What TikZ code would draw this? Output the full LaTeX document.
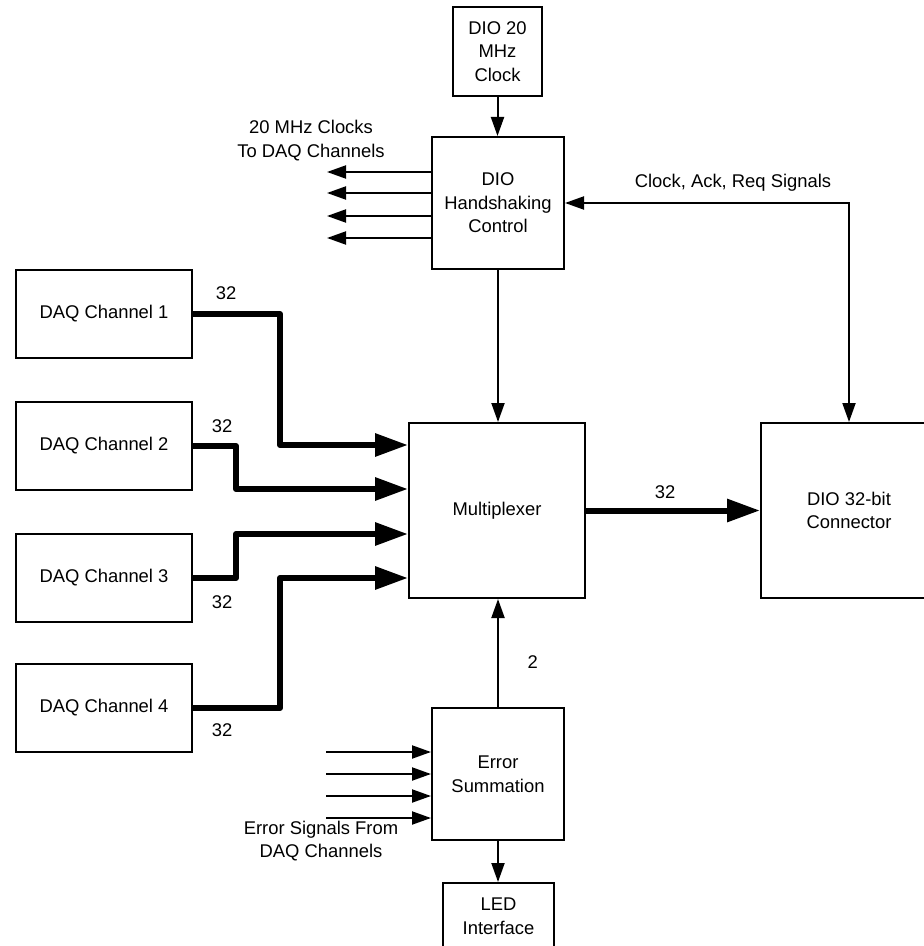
\documentclass[tikz,border=0pt]{standalone}
\usepackage{fontspec}
\setmainfont{Liberation Sans}
\usetikzlibrary{positioning, arrows.meta}

\begin{document}
\begin{tikzpicture}[x=0.5pt,y=-0.5pt,node distance=66pt,on grid,
	font=\fontsize{9.2}{11.8}\selectfont,
	block/.style={draw,line width=1pt,align=center,inner sep=0pt},
	daq/.style={block,minimum width=88pt,minimum height=44pt},
	lbl/.style={align=center,inner sep=0pt},
	sig/.style={line width=1pt,-{Triangle[length=9.5pt,width=6.5pt]}},
	bus/.style={line width=3pt,line join=round,-{Triangle[length=16.5pt,width=11pt]}}]
	
	\clip (0,0) rectangle (924,946);
	
	\node[block,minimum size=44.5pt] (clk) at (497.5,51.5) {DIO 20\\MHz\\Clock};
	\node[block,minimum size=66pt]   (hs)  at (498,203)    {DIO\\Handshaking\\Control};
	\node[block,minimum width=88pt,minimum height=87.5pt] (mux) at (497,510.5) {Multiplexer};
	\node[block,minimum width=88pt,minimum height=87.5pt] (con) at (849,510.5) {DIO 32-bit\\Connector};
	\node[block,minimum size=66pt]   (err) at (498,774)    {Error\\Summation};
	\node[block,minimum width=55.5pt,minimum height=33pt] (led) at (498.5,916) {LED\\Interface};
	
	\node[daq] (ch1) at (104,314)        {DAQ Channel 1};
	\node[daq] (ch2) [below=66pt of ch1] {DAQ Channel 2};
	\node[daq] (ch3) [below=66pt of ch2] {DAQ Channel 3};
	\node[daq] (ch4) [below=65pt of ch3] {DAQ Channel 4};
	
	% clocks out to the channels
	\foreach \y [count=\i] in {172,193,216,238} {
		\coordinate (ck\i) at (327,\y);
		\draw[sig] (hs.west |- ck\i) -- (ck\i);
	}
	\node[lbl] (ck lbl) at (311,140.5) {20 MHz Clocks\\To DAQ Channels};
	
	% error lines in
	\foreach \y [count=\i] in {752,774,796,818} {
		\coordinate (er\i) at (326,\y);
		\draw[sig] (er\i) -- (er\i -| err.west);
	}
	\node[lbl] (er lbl) at (321,841) {Error Signals From\\DAQ Channels};
	
	\draw[sig] (clk.south) -- (clk.south |- hs.north);
	\draw[sig] (hs.south) -- (hs.south |- mux.north);
	\draw[sig,{Triangle[length=9.5pt,width=6.5pt]}-{Triangle[length=9.5pt,width=6.5pt]}]
		(hs.east) -| (con.north);
	\node[lbl] (hs lbl) at (733,183) {Clock, Ack, Req Signals};
	\draw[sig] (err.north) -- (err.north |- mux.south)
		node[pos=0.42,right=11pt] (w2) {2};
	\draw[sig] (err.south) -- (err.south |- led.north);
	
	% 32-bit buses
	\coordinate (j1) at (280,445);
	\coordinate (j2) at (236,489);
	\coordinate (j3) at (236,534);
	\coordinate (j4) at (280,578);
	\draw[bus] (ch1.east) -| (j1) -- (j1 -| mux.west);
	\draw[bus] (ch2.east) -| (j2) -- (j2 -| mux.west);
	\draw[bus] (ch3.east) -| (j3) -- (j3 -| mux.west);
	\draw[bus] (ch4.east) -| (j4) -- (j4 -| mux.west);
	\draw[bus] (mux.east) -- (con.west);
	
	\node (w32a) at (226,293) {32};
	\node (w32b) at (222,426) {32};
	\node (w32c) at (222,602) {32};
	\node (w32d) at (222,730) {32};
	\node (w32e) at (665,492) {32};
\end{tikzpicture}
\end{document}
